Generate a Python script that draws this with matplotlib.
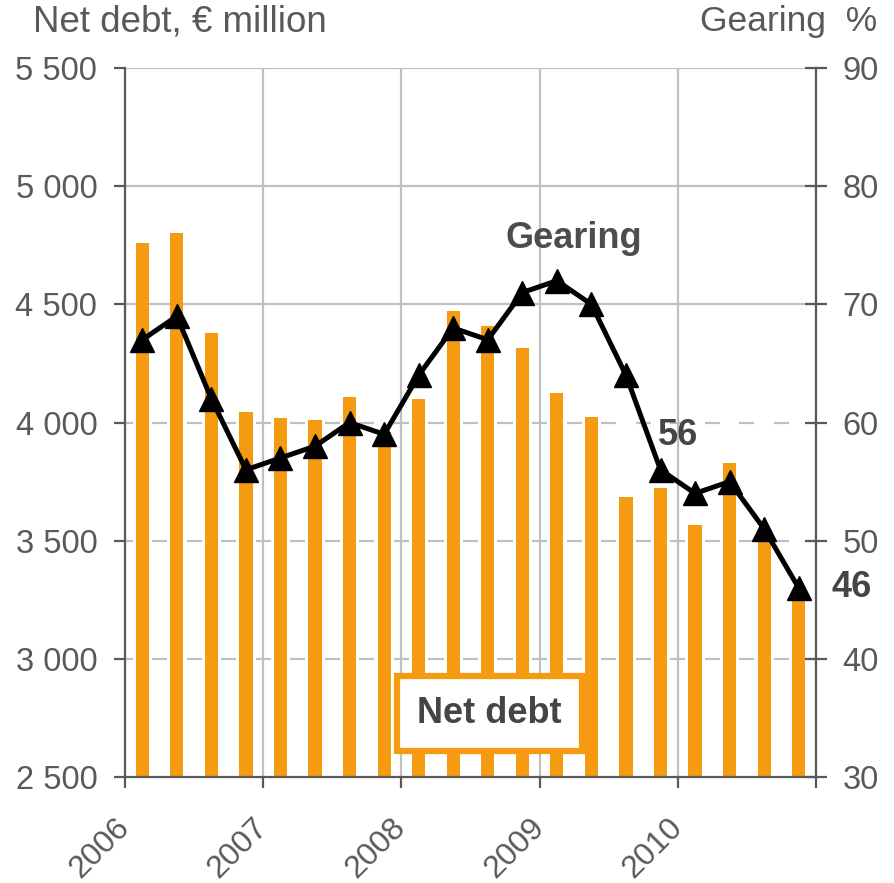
import matplotlib.pyplot as plt
import numpy as np

plt.rcParams['font.family'] = ['Liberation Sans', 'DejaVu Sans']

# quarterly figures, Q1 2006 .. Q4 2010
years = ['2006', '2007', '2008', '2009', '2010']
net_debt = [4760, 4800, 4380, 4045, 4020, 4010, 4110, 3960,
            4100, 4470, 4410, 4315, 4125, 4025, 3685, 3725,
            3565, 3830, 3500, 3260]
gearing = [67, 69, 62, 56, 57, 58, 60, 59,
           64, 68, 67, 71, 72, 70, 64, 56,
           54, 55, 51, 46]

bar_color = '#F49B12'
text_gray = '#595959'
grid_gray = '#C0C0C0'
bar_width = 0.38

fig = plt.figure(figsize=(8.95, 8.83), dpi=100)
ax = fig.add_axes([0.1397, 0.12, 0.772, 0.803])
ax2 = ax.twinx()

x = np.arange(len(net_debt)) + 0.5
ax.bar(x, net_debt, width=bar_width, color=bar_color, zorder=2)

ax.set_xlim(0, len(net_debt))
ax.set_ylim(2500, 5500)
ax2.set_ylim(30, 90)

# gridlines: solid in the upper part, short dashes between the bars lower down
ax.set_axisbelow(True)
ax.grid(axis='x', color=grid_gray, lw=1.6, zorder=0)
for y in [4500, 5000, 5500]:
    ax.axhline(y, color=grid_gray, lw=1.6, zorder=0)
gap = 0.09
starts = np.concatenate([[0], x + bar_width / 2 + gap])
ends = np.concatenate([x - bar_width / 2 - gap, [len(net_debt)]])
for y in [3000, 3500, 4000]:
    ax.hlines([y] * len(starts), starts, ends, color=grid_gray, lw=1.6, zorder=0)

# gearing line
ax2.plot(x, gearing, color='black', lw=3.6, marker='^', ms=17, zorder=5)

# axes styling
ax.set_xticks(np.arange(0, len(net_debt) + 1, 4))
ax.set_xticklabels(years + [''], rotation=45, ha='right', va='center',
                   rotation_mode='anchor')
ax.set_yticks(np.arange(2500, 5501, 500))
ax.set_yticklabels([f'{v:,}'.replace(',', ' ') for v in range(2500, 5501, 500)])
ax2.set_yticks(np.arange(30, 91, 10))

for a in (ax, ax2):
    a.spines['top'].set_visible(False)
    for s in ('left', 'right', 'bottom'):
        a.spines[s].set_color(text_gray)
        a.spines[s].set_linewidth(1.6)
ax.spines['right'].set_visible(False)
ax2.spines['left'].set_visible(False)
ax2.spines['bottom'].set_visible(False)

ax.tick_params(axis='y', direction='out', length=8, width=1.6, color=text_gray,
               labelsize=23.5, labelcolor=text_gray, pad=12)
ax.tick_params(axis='x', direction='out', length=8, width=1.6, color=text_gray,
               labelsize=23, labelcolor=text_gray, pad=25)
ax2.tick_params(axis='y', direction='inout', length=16, width=1.6, color=text_gray,
                labelsize=23.5, labelcolor=text_gray, pad=11)

# axis titles
fig.text(33 / 895, 1 - 22 / 883, 'Net debt, € million', fontsize=26.5,
         color=text_gray, ha='left', va='center')
fig.text(877 / 895, 1 - 22 / 883, 'Gearing  %', fontsize=25.5,
         color=text_gray, ha='right', va='center')

# annotations
ax2.text(13.0, 75.6, 'Gearing', fontsize=26, fontweight='bold', color='#4D4D4D',
         ha='center', va='center')
ax2.text(x[15] + 0.5, gearing[15] + 2.9, str(gearing[15]), fontsize=26,
         fontweight='bold', color='#454545', ha='center', va='center')
ax2.text(x[19] + 0.95, gearing[19], str(gearing[19]), fontsize=26,
         fontweight='bold', color='#454545', ha='left', va='center', clip_on=False)
ax.text(10.55, 2770, 'Net debt', fontsize=26, fontweight='bold', color='#454545',
        ha='center', va='center', zorder=6,
        bbox=dict(boxstyle='square,pad=0.55', fc='white', ec=bar_color, lw=4.5))

fig.savefig('out.png', dpi=100)
